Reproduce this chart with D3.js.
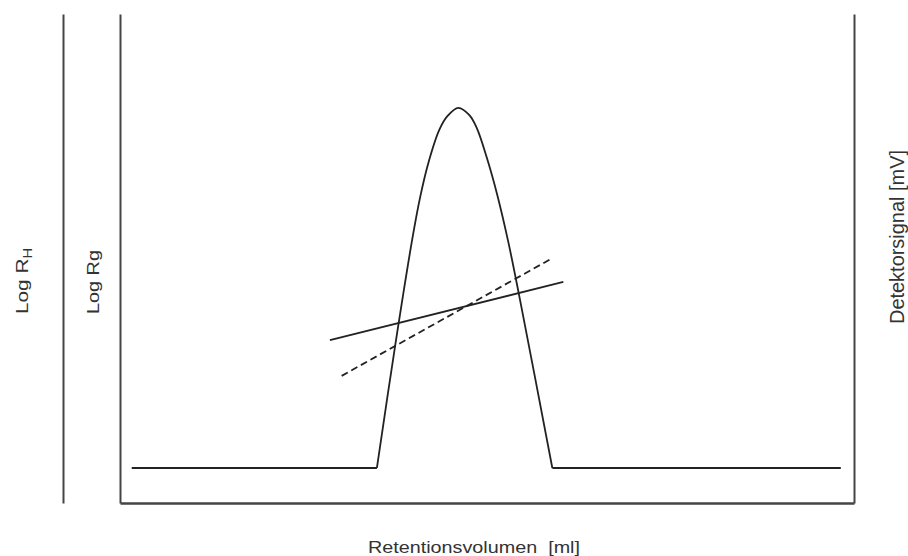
<!DOCTYPE html>
<html>
<head>
<meta charset="utf-8">
<script src="https://cdn.jsdelivr.net/npm/d3@7"></script>
<style>
  body { margin: 0; background: #fff; }
  text { font-family: "Liberation Sans", Arial, sans-serif; fill: #333; }
</style>
</head>
<body>
<svg width="908" height="556"></svg>
<script>
// detector signal (retention volume in ml, signal in mV)
const retention = [0.16, 3.50, 3.75, 3.98, 4.09, 4.20, 4.35, 4.46, 4.61, 4.76, 4.86, 5.00, 5.14, 5.29, 5.44, 5.89, 9.82];
const signal    = [7.16, 7.16, 32.3, 53.8, 62.6, 69.5, 76.3, 79.1, 80.8, 79.3, 76.7, 70.5, 63.0, 53.4, 42.3, 7.16, 7.16];

// log Rg (solid) and log RH (dashed) across the peak
const rgVolume = [2.86, 6.04];
const rgValue  = [33.3, 45.2];
const rhVolume = [3.02, 5.87];
const rhValue  = [26.0, 49.9];

// axis titles
const xTitle = "Retentionsvolumen  [ml]";
const rgTitle = "Log Rg";
const rhTitle = ["Log R", "H"];
const signalTitle = "Detektorsignal [mV]";

const svg = d3.select("svg");
const margin = {top: 14, right: 54, bottom: 53, left: 120};
const width = 908, height = 556;

const x = d3.scaleLinear().domain([0, 10]).range([margin.left, width - margin.right]);
const y = d3.scaleLinear().domain([0, 100]).range([height - margin.bottom, margin.top]);
const yRg = d3.scaleLinear().domain([0, 100]).range([height - margin.bottom, margin.top]);
const yRh = d3.scaleLinear().domain([0, 100]).range([height - margin.bottom, margin.top]);

// axes: plain lines, no ticks
function styleAxis(g, w) {
  g.select(".domain").attr("stroke", "#444").attr("stroke-width", w);
}
svg.append("g")
  .attr("transform", `translate(0,${height - margin.bottom})`)
  .call(d3.axisBottom(x).tickValues([]).tickSizeOuter(0))
  .call(g => styleAxis(g, 2.5));
svg.append("g")
  .attr("transform", `translate(${margin.left},0)`)
  .call(d3.axisLeft(yRg).tickValues([]).tickSizeOuter(0))
  .call(g => styleAxis(g, 2));
svg.append("g")
  .attr("transform", "translate(63,0)")
  .call(d3.axisLeft(yRh).tickValues([]).tickSizeOuter(0))
  .call(g => styleAxis(g, 2));
svg.append("g")
  .attr("transform", `translate(${width - margin.right},0)`)
  .call(d3.axisRight(y).tickValues([]).tickSizeOuter(0))
  .call(g => styleAxis(g, 2));

// signal: flat baseline pieces + smooth peak
const pts = retention.map((v, i) => [v, signal[i]]);
const straight = d3.line().x(d => x(d[0])).y(d => y(d[1]));
const smooth = d3.line().x(d => x(d[0])).y(d => y(d[1])).curve(d3.curveCatmullRom.alpha(0.5));
const n = pts.length;
[pts.slice(0, 2), pts.slice(n - 2)].forEach(seg => {
  svg.append("path").attr("d", straight(seg))
    .attr("fill", "none").attr("stroke", "#222").attr("stroke-width", 1.8);
});
svg.append("path").attr("d", smooth(pts.slice(1, n - 1)))
  .attr("fill", "none").attr("stroke", "#222").attr("stroke-width", 1.8);

// Rg and RH lines
svg.append("path")
  .attr("d", d3.line().x(d => x(d[0])).y(d => yRg(d[1]))(rgVolume.map((v, i) => [v, rgValue[i]])))
  .attr("fill", "none").attr("stroke", "#222").attr("stroke-width", 1.8);
svg.append("path")
  .attr("d", d3.line().x(d => x(d[0])).y(d => yRh(d[1]))(rhVolume.map((v, i) => [v, rhValue[i]])))
  .attr("fill", "none").attr("stroke", "#222").attr("stroke-width", 1.8)
  .attr("stroke-dasharray", "7,4");

// titles
svg.append("text")
  .attr("x", 368).attr("y", 553)
  .attr("font-size", 17)
  .attr("textLength", 212).attr("lengthAdjust", "spacingAndGlyphs")
  .attr("xml:space", "preserve")
  .text(xTitle);

svg.append("text")
  .attr("transform", "translate(99,314) rotate(-90)")
  .attr("font-size", 17)
  .attr("textLength", 64).attr("lengthAdjust", "spacingAndGlyphs")
  .text(rgTitle);

const rh = svg.append("text")
  .attr("transform", "translate(28,314) rotate(-90)")
  .attr("font-size", 17)
  .attr("textLength", 66).attr("lengthAdjust", "spacingAndGlyphs");
rh.append("tspan").text(rhTitle[0]);
rh.append("tspan").attr("font-size", 12).attr("dy", 4).text(rhTitle[1]);

svg.append("text")
  .attr("transform", "translate(904,324) rotate(-90)")
  .attr("font-size", 20)
  .attr("textLength", 174).attr("lengthAdjust", "spacingAndGlyphs")
  .text(signalTitle);
</script>
</body>
</html>
